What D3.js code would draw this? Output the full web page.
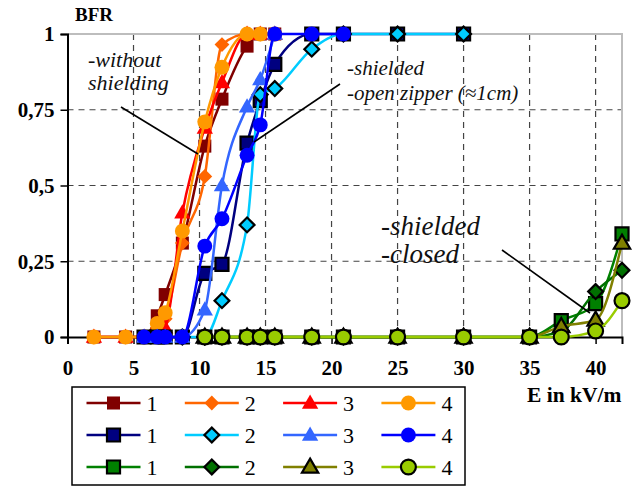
<!DOCTYPE html>
<html><head><meta charset="utf-8">
<script src="https://cdn.jsdelivr.net/npm/d3@7"></script>
<style>
html,body{margin:0;padding:0;background:#fff;}
svg{display:block;}
</style></head>
<body>
<svg id="chart" width="635" height="487"></svg>
<script>
// ---------- DATA ----------
const _ = null;
const E = [2, 4.4, 5.8, 6.8, 7.4, 8.7, 10.4, 11.7, 13.6, 14.6, 15.7, 18.5, 20.9, 25, 30, 35, 37.4, 40, 42];
// without shielding
const noShield1 = [0, 0, 0, 0.07, 0.14, 0.31, 0.63, 0.785, 0.96, 1, 1, _, _, _, _, _, _, _, _];
const noShield2 = [0, 0, 0, 0.03, 0.06, 0.31, 0.53, 0.965, 1, 1, 1, _, _, _, _, _, _, _, _];
const noShield3 = [0, 0, 0, 0.01, 0.03, 0.41, 0.69, 0.84, 1, 1, 1, _, _, _, _, _, _, _, _];
const noShield4 = [0, 0, 0, 0.045, 0.08, 0.35, 0.71, 0.89, 1, 1, 1, _, _, _, _, _, _, _, _];
// shielded, open zipper
const open1 = [_, _, 0, 0, 0, 0, 0.21, 0.24, 0.64, 0.78, 0.90, 1, 1, 1, 1, _, _, _, _];
const open2 = [_, _, _, _, _, 0, 0, 0.12, 0.37, 0.80, 0.82, 0.95, 1, 1, 1, _, _, _, _];
const open3 = [_, _, 0, 0, 0, 0, 0.09, 0.50, 0.76, 0.85, 1, _, _, _, _, _, _, _, _];
const open4 = [_, _, 0, 0, 0, 0, 0.30, 0.39, 0.60, 0.70, 1, 1, 1, _, _, _, _, _, _];
// shielded, closed
const closed1 = [_, _, _, _, _, _, 0, 0, 0, 0, 0, 0, 0, 0, 0, 0, 0.054, 0.11, 0.34];
const closed2 = [_, _, _, _, _, _, 0, 0, 0, 0, 0, 0, 0, 0, 0, 0, 0.02, 0.15, 0.22];
const closed3 = [_, _, _, _, _, _, 0, 0, 0, 0, 0, 0, 0, 0, 0, 0, 0.035, 0.056, 0.31];
const closed4 = [_, _, _, _, _, _, 0, 0, 0, 0, 0, 0, 0, 0, 0, 0, 0, 0.02, 0.12];

const seriesLabels = ["1", "2", "3", "4"];
const xTicks = [0, 5, 10, 15, 20, 25, 30, 35, 40];
const yTicks = [0, 0.25, 0.5, 0.75, 1];
const yTickLabels = ["0", "0,25", "0,5", "0,75", "1"];

// ---------- STYLE ----------
const SERIF = '"Liberation Serif"';
const series = [
  {v: noShield1, color: "#800000", shape: "square", stroke: null},
  {v: noShield2, color: "#FF6600", shape: "diamond", stroke: null},
  {v: noShield3, color: "#FF0000", shape: "triangle", stroke: null},
  {v: noShield4, color: "#FF9900", shape: "circle", stroke: null},
  {v: open1, color: "#000080", shape: "square", stroke: "#000"},
  {v: open2, color: "#00CCFF", shape: "diamond", stroke: "#000"},
  {v: open3, color: "#3366FF", shape: "triangle", stroke: null},
  {v: open4, color: "#0000FF", shape: "circle", stroke: null},
  {v: closed1, color: "#008000", shape: "square", stroke: "#000"},
  {v: closed2, color: "#007000", shape: "diamond", stroke: "#000"},
  {v: closed3, color: "#808000", shape: "triangle", stroke: "#000"},
  {v: closed4, color: "#99CC00", shape: "circle", stroke: "#000"}
];

const svg = d3.select("#chart");
const x = d3.scaleLinear().domain([0, 42]).range([67.5, 622]);
const y = d3.scaleLinear().domain([0, 1]).range([337, 34]);

function symPath(shape) {
  if (shape === "square") return d3.symbol(d3.symbolSquare, 170)();
  if (shape === "diamond") return d3.symbol(d3.symbolSquare, 110)();
  if (shape === "triangle") return d3.symbol(d3.symbolTriangle, 115)();
  return d3.symbol(d3.symbolCircle, 175)();
}
function symTransform(shape, px, py) {
  let t = `translate(${px},${py})`;
  if (shape === "diamond") t += " rotate(45)";
  if (shape === "triangle") t += " translate(0,1)";
  return t;
}

// grid
const grid = svg.append("g");
grid.selectAll("line.v").data(xTicks.filter(d => d > 0)).join("line")
  .attr("x1", d => x(d)).attr("x2", d => x(d)).attr("y1", y(1)).attr("y2", y(0))
  .attr("stroke", "#444").attr("stroke-width", 1.2).attr("stroke-dasharray", "6,5");
grid.selectAll("line.h").data([0.25, 0.5, 0.75]).join("line")
  .attr("x1", x(0)).attr("x2", x(42)).attr("y1", d => y(d)).attr("y2", d => y(d))
  .attr("stroke", "#444").attr("stroke-width", 1.2).attr("stroke-dasharray", "6,5");

// plot border (top/right)
svg.append("path").attr("d", `M${x(0)},${y(1)}H${x(42)}V${y(0)}`)
  .attr("fill", "none").attr("stroke", "#BDBDBD").attr("stroke-width", 2);

// axes
const xAxis = d3.axisBottom(x).tickValues(xTicks).tickSize(7).tickFormat(d => d);
const gx = svg.append("g").attr("transform", `translate(0,${y(0)})`).call(xAxis);
gx.select(".domain").attr("stroke", "#000").attr("stroke-width", 2);
gx.selectAll(".tick line").attr("stroke", "#000").attr("stroke-width", 1.5);
gx.selectAll(".tick text").style("font-family", SERIF).style("font-weight", "bold")
  .style("font-size", "21px").attr("fill", "#000").attr("dy", 0).attr("y", 38);

const yAxis = d3.axisLeft(y).tickValues(yTicks).tickSize(7).tickFormat((d, i) => yTickLabels[i]);
const gy = svg.append("g").attr("transform", `translate(${x(0)},0)`).call(yAxis);
gy.select(".domain").attr("stroke", "#000").attr("stroke-width", 2);
gy.selectAll(".tick line").attr("stroke", "#000").attr("stroke-width", 1.5);
gy.selectAll(".tick text").style("font-family", SERIF).style("font-weight", "bold")
  .style("font-size", "21px").attr("fill", "#000").attr("x", -13).attr("dy", "0.33em");

// series
const line = d3.line().defined(d => d[1] !== null).x(d => x(d[0])).y(d => y(d[1])).curve(d3.curveMonotoneX);
series.forEach(s => {
  const pts = E.map((e, i) => [e, s.v[i]]).filter(d => d[1] !== null);
  const g = svg.append("g");
  g.append("path").datum(pts).attr("d", line).attr("fill", "none")
    .attr("stroke", s.color).attr("stroke-width", 2.5);
  g.selectAll("path.m").data(pts).join("path").attr("class", "m")
    .attr("d", symPath(s.shape))
    .attr("transform", d => symTransform(s.shape, x(d[0]), y(d[1])))
    .attr("fill", s.color)
    .attr("stroke", s.stroke || "none").attr("stroke-width", 2.2);
});

function txt(parent, xp, yp, size, str, opts = {}) {
  return parent.append("text").attr("x", xp).attr("y", yp)
    .style("font-family", SERIF).style("font-size", size + "px")
    .style("font-weight", opts.bold ? "bold" : "normal")
    .style("font-style", opts.italic ? "italic" : "normal")
    .attr("fill", opts.fill || "#000").text(str);
}

// labels
txt(svg, 75, 21, 19, "BFR", {bold: true});
txt(svg, 527, 402, 21.5, "E in kV/m", {bold: true});

// annotations
txt(svg, 88, 67, 22, "-without", {italic: true, fill: "#111"});
txt(svg, 88, 90, 22, "shielding", {italic: true, fill: "#111"});
txt(svg, 347, 75, 21, "-shielded", {italic: true, fill: "#111"});
txt(svg, 347, 100, 21, "-open zipper (≈1cm)", {italic: true, fill: "#111"});
txt(svg, 381, 235, 27, "-shielded", {italic: true, fill: "#111"});
txt(svg, 381, 263, 27, "-closed", {italic: true, fill: "#111"});
const annLines = [[121, 107, 198, 154], [340, 84, 254, 142], [502, 250, 590, 313]];
svg.selectAll("line.ann").data(annLines).join("line")
  .attr("x1", d => d[0]).attr("y1", d => d[1]).attr("x2", d => d[2]).attr("y2", d => d[3])
  .attr("stroke", "#000").attr("stroke-width", 1.6);

// legend
const lg = svg.append("g");
lg.append("rect").attr("x", 72).attr("y", 387).attr("width", 393).attr("height", 98)
  .attr("fill", "#fff").attr("stroke", "#000").attr("stroke-width", 1.5);
series.forEach((s, i) => {
  const col = i % 4, row = Math.floor(i / 4);
  const cx = 113.5 + col * 98.3, cy = 403 + row * 32;
  lg.append("line").attr("x1", cx - 27).attr("x2", cx + 27).attr("y1", cy).attr("y2", cy)
    .attr("stroke", s.color).attr("stroke-width", 2.5);
  lg.append("path").attr("d", symPath(s.shape)).attr("transform", symTransform(s.shape, cx, cy))
    .attr("fill", s.color).attr("stroke", s.stroke || "none").attr("stroke-width", 2.2);
  txt(lg, cx + 33, cy + 7.5, 22, seriesLabels[col]);
});
</script>
</body></html>
